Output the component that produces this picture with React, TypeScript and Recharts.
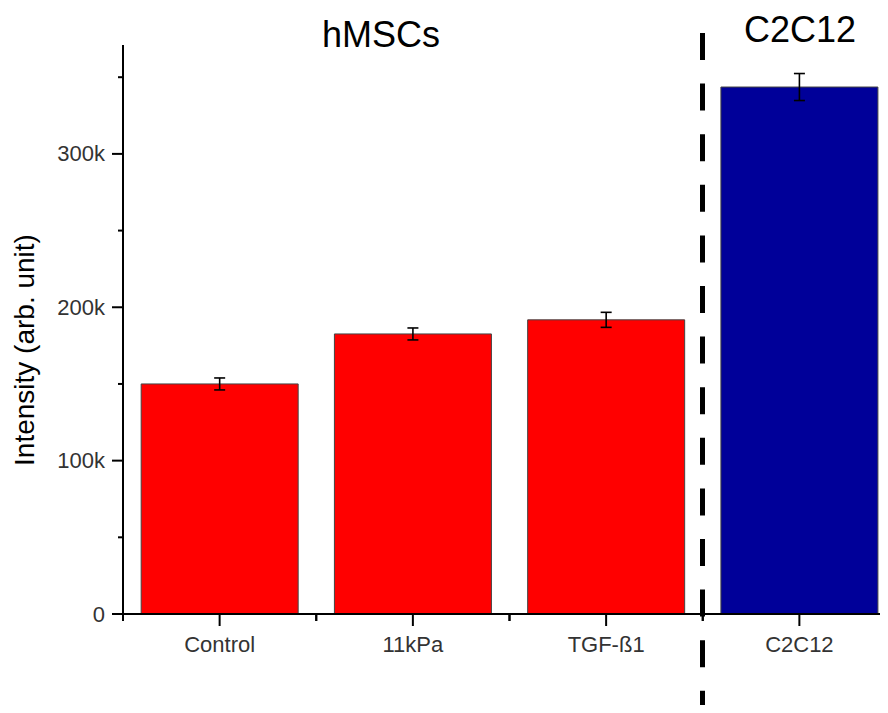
import React from "react";
import { BarChart, Bar, XAxis, YAxis, Cell, ErrorBar } from "recharts";

const categories = ["Control", "11kPa", "TGF-ß1", "C2C12"];
const intensity = [150000, 182600, 191800, 343600];
const intensityErr = [3900, 3900, 4900, 8800];
const groupOf = ["hMSCs", "hMSCs", "hMSCs", "C2C12"];
const yMajorTicks = [0, 100000, 200000, 300000];
const yMinorTicks = [50000, 150000, 250000, 350000];

const data = categories.map((name, i) => ({
  name,
  value: intensity[i],
  err: intensityErr[i],
  group: groupOf[i],
}));

const FONT = "'Liberation Sans', Arial, sans-serif";
const AXIS_X = 123;
const AXIS_Y = 614;
const BAND = (896 - AXIS_X) / categories.length;

const fmtK = (v: number) => (v === 0 ? "0" : `${v / 1000}k`);

// y ticks: long ones with labels, short ones without
function YTick(props: any) {
  const { payload } = props;
  const y = payload.coordinate;
  const major = yMajorTicks.includes(payload.value);
  return (
    <g>
      <line x1={AXIS_X - (major ? 11 : 5)} x2={AXIS_X} y1={y} y2={y} stroke="#000" strokeWidth={2} />
      {major && (
        <text x={AXIS_X - 18} y={y} textAnchor="end" dominantBaseline="central" fill="#333" fontSize={22} fontFamily={FONT}>
          {fmtK(payload.value)}
        </text>
      )}
    </g>
  );
}

// x ticks: major at category centre, minor at band edges
function XTick(props: any) {
  const { x, payload } = props;
  return (
    <g>
      <line x1={x} x2={x} y1={AXIS_Y} y2={AXIS_Y + 12} stroke="#000" strokeWidth={2} />
      <line x1={x - BAND / 2} x2={x - BAND / 2} y1={AXIS_Y} y2={AXIS_Y + 7} stroke="#000" strokeWidth={2} />
      <line x1={x + BAND / 2} x2={x + BAND / 2} y1={AXIS_Y} y2={AXIS_Y + 7} stroke="#000" strokeWidth={2} />
      <text x={x} y={AXIS_Y + 38} textAnchor="middle" fill="#333" fontSize={22} fontFamily={FONT}>
        {payload.value}
      </text>
    </g>
  );
}

export default function App() {
  return (
    <div style={{ position: "relative", width: 888, height: 713, margin: -8, overflow: "hidden", background: "#fff" }}>
      <BarChart
        width={896}
        height={713}
        data={data}
        margin={{ top: 45, right: 0, bottom: 59, left: 0 }}
        barCategoryGap="9.4%"
      >
        <XAxis
          dataKey="name"
          height={40}
          axisLine={{ stroke: "#000", strokeWidth: 2 }}
          tickLine={false}
          tick={<XTick />}
          interval={0}
        />
        <YAxis
          width={AXIS_X}
          domain={[0, 371000]}
          ticks={[...yMajorTicks, ...yMinorTicks].sort((a, b) => a - b)}
          axisLine={{ stroke: "#000", strokeWidth: 2 }}
          tickLine={false}
          tick={<YTick />}
          interval={0}
        />
        <Bar dataKey="value" stroke="#444" strokeWidth={1} isAnimationActive={false}>
          {data.map((d, i) => (
            <Cell key={`c-${i}`} fill={d.group === "hMSCs" ? "#FF0000" : "#000099"} />
          ))}
          <ErrorBar dataKey="err" width={5.5} stroke="#000" strokeWidth={1.6} isAnimationActive={false} />
        </Bar>
      </BarChart>

      {/* group divider, titles, axis title */}
      <svg width={888} height={713} style={{ position: "absolute", left: 0, top: 0, pointerEvents: "none" }}>
        <line x1={702.5} x2={702.5} y1={33} y2={713} stroke="#000" strokeWidth={5} strokeDasharray="27 23.6" />
        <text x={381} y={47} textAnchor="middle" fontSize={36} fontFamily={FONT} fill="#000">hMSCs</text>
        <text x={800} y={42} textAnchor="middle" fontSize={36} fontFamily={FONT} fill="#000">C2C12</text>
        <text
          x={24}
          y={350}
          transform="rotate(-90 24 350)"
          textAnchor="middle"
          dominantBaseline="central"
          fontSize={28}
          fontFamily={FONT}
          fill="#000"
        >
          Intensity (arb. unit)
        </text>
      </svg>
    </div>
  );
}
